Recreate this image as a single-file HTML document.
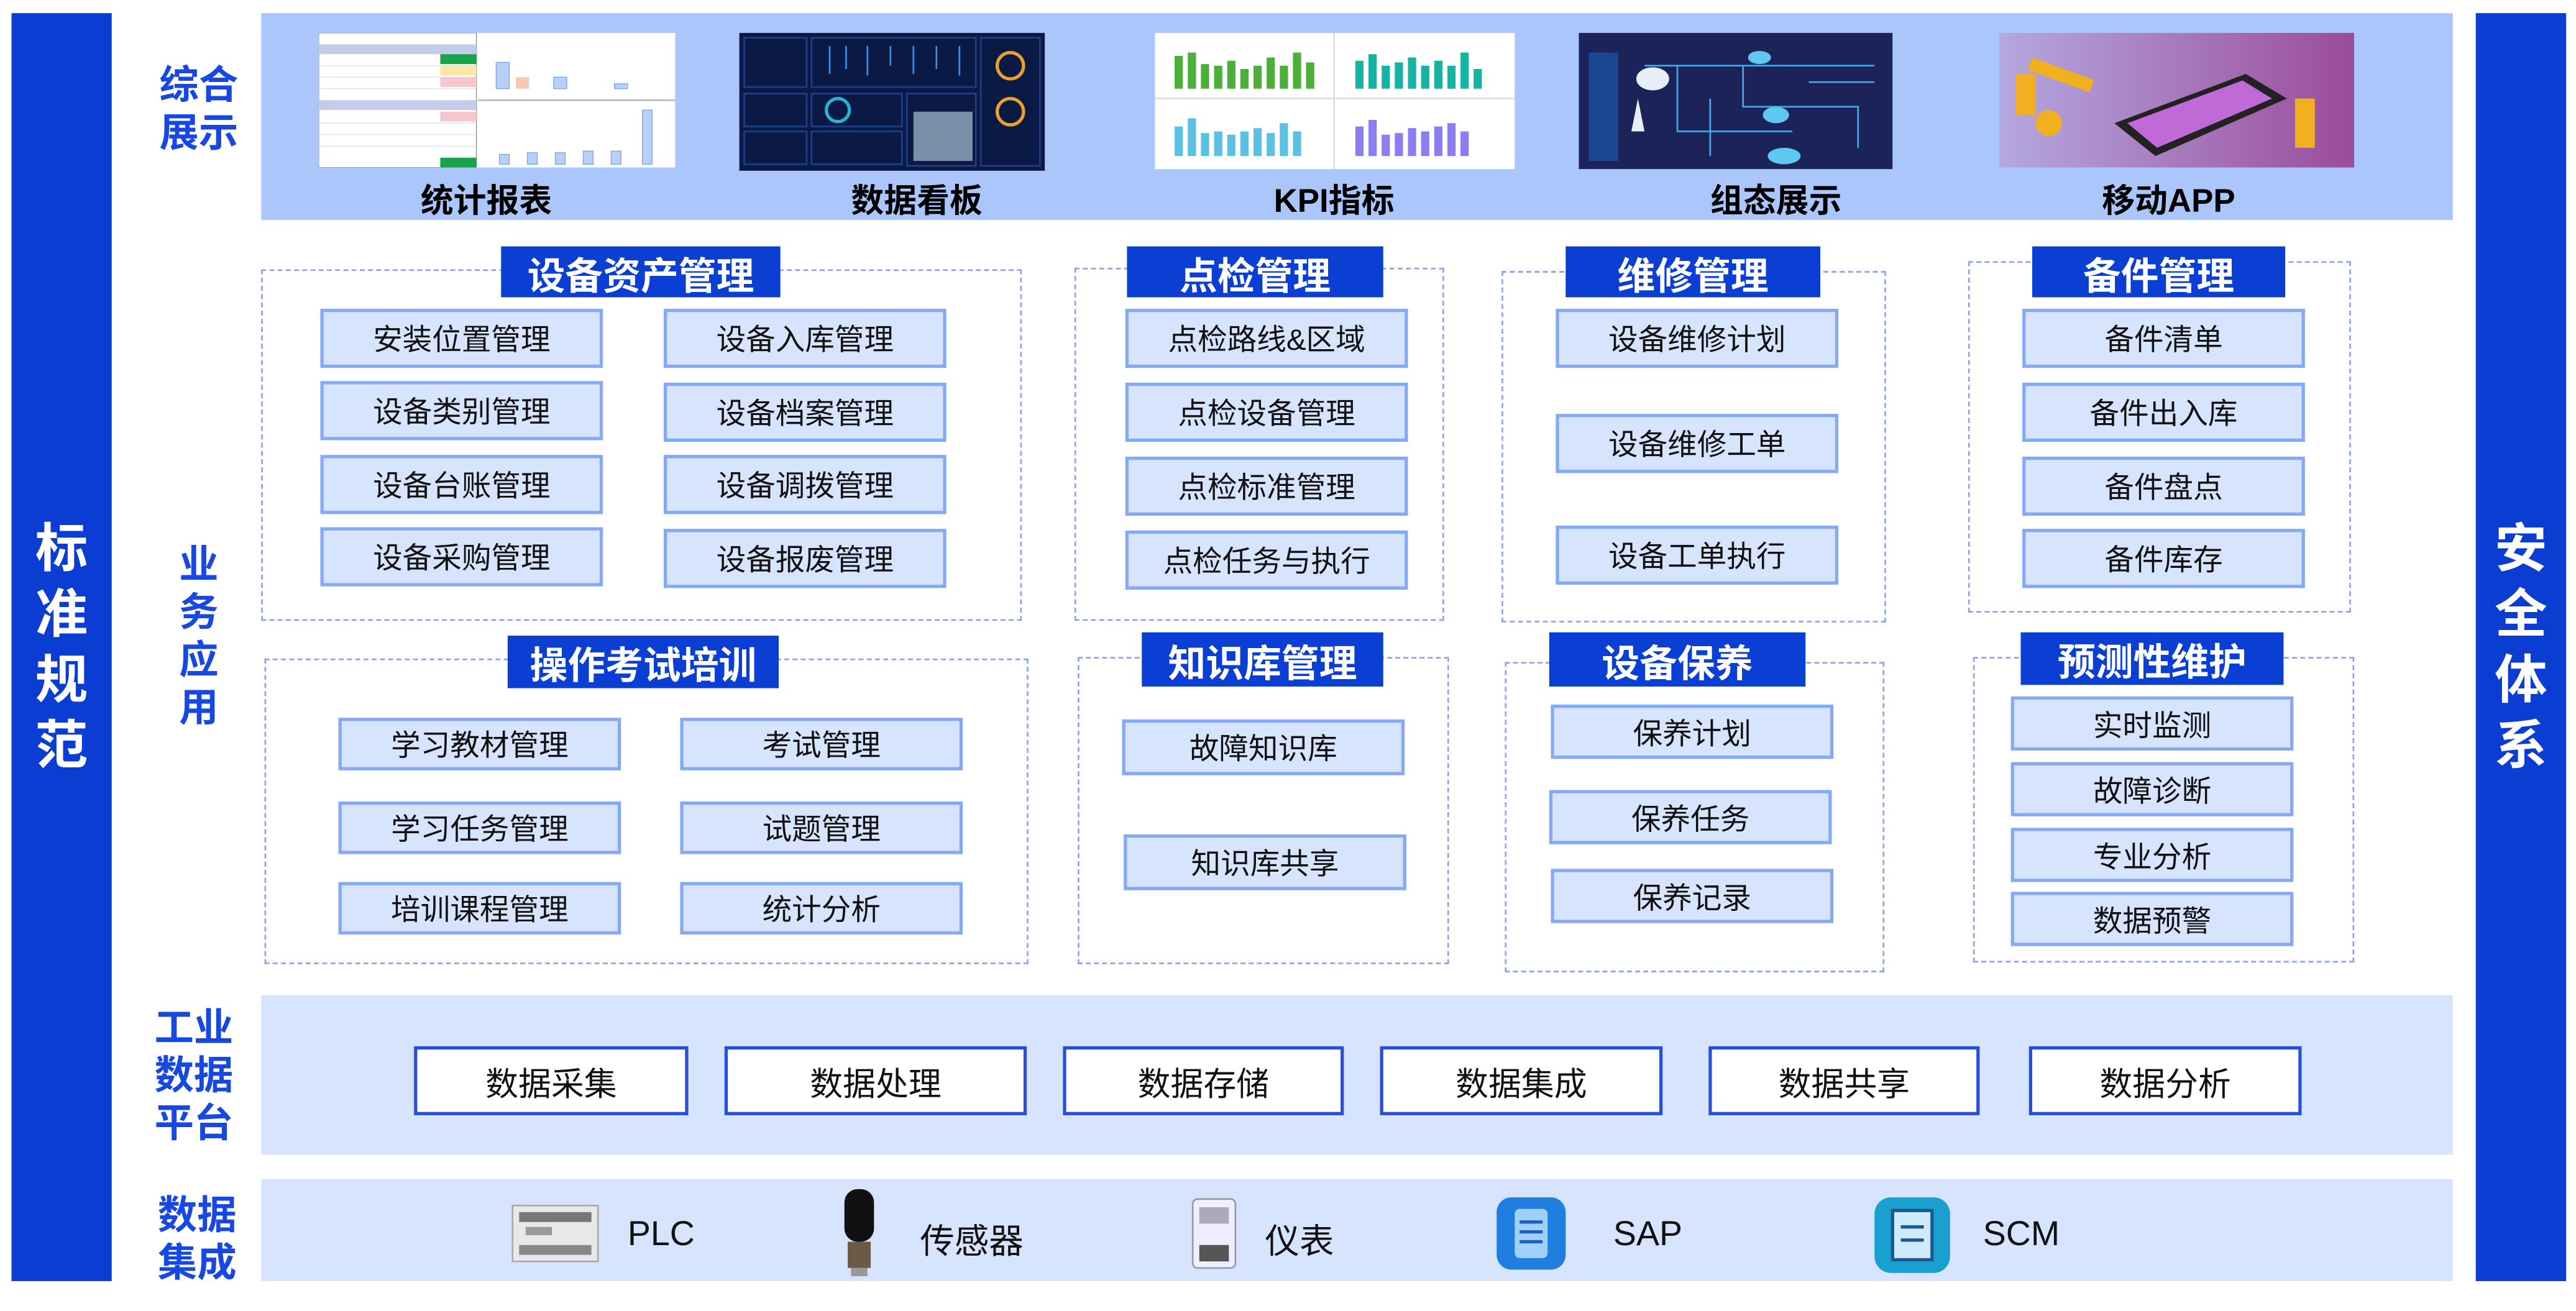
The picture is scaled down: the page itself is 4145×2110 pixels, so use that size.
<!DOCTYPE html>
<html><head><meta charset="utf-8"><style>
*{margin:0;padding:0;box-sizing:border-box}
html,body{width:4145px;height:2110px;overflow:hidden;background:#fff}
#s{position:absolute;left:0;top:0;width:1568px;height:798px;transform:scale(2.6435);transform-origin:0 0;font-family:"Liberation Sans","Noto Sans CJK SC",sans-serif}
.a{position:absolute}
.bar{background:#0b3dd3;color:#fff;font-weight:bold;font-size:32px;display:flex;flex-direction:column;align-items:center;justify-content:center;line-height:40px}
.lab{position:absolute;color:#1848e2;font-weight:bold;font-size:24px;line-height:29px;text-align:center;width:60px}
.band{position:absolute;background:#d6e4fd}
.cap{position:absolute;font-size:20px;font-weight:bold;color:#000;text-align:center;width:200px}
.sec{position:absolute;border:1px dashed #8ba3e8}
.tt{position:absolute;background:#0b3fd4;color:#fff;font-weight:bold;font-size:23px;text-align:center;display:flex;align-items:center;justify-content:center}
.it{position:absolute;background:#d6e4fd;border:2px solid #86a9f5;font-size:18px;color:#111;display:flex;align-items:center;justify-content:center;width:172px;height:36px}
.db{position:absolute;background:#fff;border:2px solid #2a4fd6;font-size:20px;color:#111;display:flex;align-items:center;justify-content:center;top:637px;height:42px}
.dt{position:absolute;font-size:21px;color:#111;top:740px}
</style></head><body><div id="s">
<div class="a bar" style="left:7px;top:8px;width:61px;height:772px">标<br>准<br>规<br>范</div>
<div class="a bar" style="left:1507px;top:8px;width:55px;height:772px">安<br>全<br>体<br>系</div>

<div class="band" style="left:159px;top:8px;width:1334px;height:126px;background:#abc6fb"></div>
<div class="lab" style="left:91px;top:38px">综合<br>展示</div>
<div class="lab" style="left:91px;top:330px;width:60px">业<br>务<br>应<br>用</div>

<!-- images -->
<svg class="a" style="left:194px;top:20px" width="217" height="82" viewBox="0 0 217 82">
<rect width="217" height="82" fill="#fff"/><rect x="0" y="0" width="96" height="82" fill="#fff" stroke="#888" stroke-width=".5"/>
<rect x="0" y="7" width="96" height="6" fill="#c3cde8"/><rect x="0" y="41" width="96" height="6" fill="#c3cde8"/>
<rect x="74" y="13" width="22" height="6" fill="#1aa34a"/><rect x="74" y="20" width="22" height="6" fill="#fbe8a8"/><rect x="74" y="27" width="22" height="6" fill="#f5c6cc"/>
<rect x="74" y="48" width="22" height="6" fill="#f5c6cc"/><rect x="74" y="76" width="22" height="6" fill="#1aa34a"/>
<g stroke="#ddd" stroke-width=".5"><line x1="0" y1="20" x2="96" y2="20"/><line x1="0" y1="27" x2="96" y2="27"/><line x1="0" y1="34" x2="96" y2="34"/><line x1="0" y1="55" x2="96" y2="55"/><line x1="0" y1="62" x2="96" y2="62"/><line x1="0" y1="69" x2="96" y2="69"/></g>
<line x1="97" y1="41" x2="217" y2="41" stroke="#bbb"/>
<g fill="#b8cff8" stroke="#7fa2e8" stroke-width=".5"><rect x="108" y="18" width="8" height="16"/><rect x="143" y="27" width="8" height="7"/><rect x="180" y="31" width="8" height="3"/><rect x="110" y="74" width="6" height="6"/><rect x="127" y="73" width="6" height="7"/><rect x="144" y="73" width="6" height="7"/><rect x="161" y="72" width="6" height="8"/><rect x="178" y="72" width="6" height="8"/><rect x="197" y="47" width="6" height="33"/></g>
<rect x="120" y="27" width="8" height="7" fill="#f4c8b8"/>
</svg>
<svg class="a" style="left:450px;top:20px" width="186" height="84" viewBox="0 0 186 84">
<rect width="186" height="84" fill="#0a1a45"/>
<g fill="none" stroke="#1f3f8a" stroke-width="1"><rect x="3" y="3" width="38" height="30"/><rect x="44" y="3" width="100" height="30"/><rect x="3" y="37" width="38" height="20"/><rect x="44" y="37" width="55" height="20"/><rect x="102" y="37" width="42" height="44"/><rect x="3" y="60" width="38" height="20"/><rect x="44" y="60" width="55" height="20"/><rect x="147" y="3" width="36" height="78"/></g>
<g stroke="#3d8ee8" stroke-width="1"><line x1="55" y1="8" x2="55" y2="25"/><line x1="65" y1="8" x2="65" y2="22"/><line x1="78" y1="8" x2="78" y2="26"/><line x1="92" y1="8" x2="92" y2="20"/><line x1="106" y1="8" x2="106" y2="25"/><line x1="120" y1="8" x2="120" y2="22"/><line x1="134" y1="8" x2="134" y2="26"/></g>
<rect x="106" y="48" width="36" height="30" fill="#7a8fa8"/>
<circle cx="165" cy="20" r="8" fill="none" stroke="#e8a030" stroke-width="2"/><circle cx="165" cy="48" r="8" fill="none" stroke="#e8a030" stroke-width="2"/>
<circle cx="60" cy="47" r="7" fill="none" stroke="#2ab0d0" stroke-width="2"/>
</svg>
<svg class="a" style="left:703px;top:20px" width="219" height="83" viewBox="0 0 219 83">
<rect width="219" height="83" fill="#fff"/><line x1="109" y1="0" x2="109" y2="83" stroke="#ddd"/><line x1="0" y1="40" x2="219" y2="40" stroke="#ddd"/>
<g fill="#4caf3a"><rect x="12" y="14" width="5" height="20"/><rect x="20" y="12" width="5" height="22"/><rect x="28" y="19" width="5" height="15"/><rect x="36" y="20" width="5" height="14"/><rect x="44" y="17" width="5" height="17"/><rect x="52" y="22" width="5" height="12"/><rect x="60" y="20" width="5" height="14"/><rect x="68" y="15" width="5" height="19"/><rect x="76" y="20" width="5" height="14"/><rect x="84" y="12" width="5" height="22"/><rect x="92" y="18" width="5" height="16"/></g>
<g fill="#16b3a2"><rect x="122" y="17" width="5" height="17"/><rect x="130" y="13" width="5" height="21"/><rect x="138" y="20" width="5" height="14"/><rect x="146" y="18" width="5" height="16"/><rect x="154" y="15" width="5" height="19"/><rect x="162" y="20" width="5" height="14"/><rect x="170" y="17" width="5" height="17"/><rect x="178" y="20" width="5" height="14"/><rect x="186" y="12" width="5" height="22"/><rect x="194" y="22" width="5" height="12"/></g>
<g fill="#5bc0e2"><rect x="12" y="57" width="5" height="18"/><rect x="20" y="52" width="5" height="23"/><rect x="28" y="61" width="5" height="14"/><rect x="36" y="60" width="5" height="15"/><rect x="44" y="62" width="5" height="13"/><rect x="52" y="60" width="5" height="15"/><rect x="60" y="58" width="5" height="17"/><rect x="68" y="61" width="5" height="14"/><rect x="76" y="55" width="5" height="20"/><rect x="84" y="60" width="5" height="15"/></g>
<g fill="#8a7ef0"><rect x="122" y="57" width="5" height="18"/><rect x="130" y="53" width="5" height="22"/><rect x="138" y="62" width="5" height="13"/><rect x="146" y="61" width="5" height="14"/><rect x="154" y="58" width="5" height="17"/><rect x="162" y="60" width="5" height="15"/><rect x="170" y="57" width="5" height="18"/><rect x="178" y="55" width="5" height="20"/><rect x="186" y="60" width="5" height="15"/></g>
</svg>
<svg class="a" style="left:961px;top:20px" width="191" height="83" viewBox="0 0 191 83">
<rect width="191" height="83" fill="#1c2358"/><rect x="6" y="12" width="18" height="66" fill="#1a5fb8" opacity=".6"/>
<g fill="none" stroke="#4aa8e8" stroke-width="1"><path d="M40 20 H180 M60 20 V60 H130 M100 20 V45 H170 V70 M140 30 H180 M80 40 V75"/></g>
<ellipse cx="45" cy="28" rx="10" ry="7" fill="#e8eef8"/><path d="M32 60 L36 40 L40 60Z" fill="#e8eef8"/>
<ellipse cx="120" cy="50" rx="8" ry="5" fill="#5ec8f0"/><ellipse cx="125" cy="75" rx="10" ry="5" fill="#5ec8f0"/><ellipse cx="110" cy="15" rx="7" ry="4" fill="#5ec8f0"/>
</svg>
<svg class="a" style="left:1217px;top:20px" width="216" height="82" viewBox="0 0 216 82">
<defs><linearGradient id="g1" x1="0" x2="1"><stop offset="0" stop-color="#b4a8e0"/><stop offset="1" stop-color="#9b4c9a"/></linearGradient></defs>
<rect width="216" height="82" fill="url(#g1)"/>
<path d="M70 55 L150 25 L175 40 L95 75Z" fill="#222"/><path d="M78 55 L148 29 L166 40 L96 70Z" fill="#c06ad8"/>
<g fill="#f0b020"><rect x="10" y="25" width="12" height="25"/><rect x="20" y="15" width="40" height="8" transform="rotate(20 20 15)"/><rect x="180" y="40" width="12" height="30"/><circle cx="30" cy="55" r="8"/></g>
</svg>
<div class="cap" style="left:196px;top:106px">统计报表</div>
<div class="cap" style="left:458px;top:106px">数据看板</div>
<div class="cap" style="left:712px;top:106px">KPI指标</div>
<div class="cap" style="left:981px;top:106px">组态展示</div>
<div class="cap" style="left:1220px;top:106px">移动APP</div>

<!-- sections -->
<div class="sec" style="left:159px;top:164px;width:463px;height:214px"></div>
<div class="tt" style="left:305px;top:150px;width:170px;height:31px">设备资产管理</div>
<div class="it" style="left:195px;top:188px">安装位置管理</div><div class="it" style="left:404px;top:188px">设备入库管理</div>
<div class="it" style="left:195px;top:232px">设备类别管理</div><div class="it" style="left:404px;top:233px">设备档案管理</div>
<div class="it" style="left:195px;top:277px">设备台账管理</div><div class="it" style="left:404px;top:277px">设备调拨管理</div>
<div class="it" style="left:195px;top:321px">设备采购管理</div><div class="it" style="left:404px;top:322px">设备报废管理</div>

<div class="sec" style="left:654px;top:163px;width:225px;height:215px"></div>
<div class="tt" style="left:686px;top:150px;width:156px;height:31px">点检管理</div>
<div class="it" style="left:685px;top:188px">点检路线&amp;区域</div>
<div class="it" style="left:685px;top:233px">点检设备管理</div>
<div class="it" style="left:685px;top:278px">点检标准管理</div>
<div class="it" style="left:685px;top:323px">点检任务与执行</div>

<div class="sec" style="left:914px;top:165px;width:234px;height:214px"></div>
<div class="tt" style="left:953px;top:150px;width:155px;height:31px">维修管理</div>
<div class="it" style="left:947px;top:188px">设备维修计划</div>
<div class="it" style="left:947px;top:252px">设备维修工单</div>
<div class="it" style="left:947px;top:320px">设备工单执行</div>

<div class="sec" style="left:1198px;top:159px;width:233px;height:214px"></div>
<div class="tt" style="left:1237px;top:150px;width:154px;height:31px">备件管理</div>
<div class="it" style="left:1231px;top:188px">备件清单</div>
<div class="it" style="left:1231px;top:233px">备件出入库</div>
<div class="it" style="left:1231px;top:278px">备件盘点</div>
<div class="it" style="left:1231px;top:322px">备件库存</div>

<div class="sec" style="left:161px;top:401px;width:465px;height:186px"></div>
<div class="tt" style="left:309px;top:387px;width:165px;height:32px">操作考试培训</div>
<div class="it" style="left:206px;top:437px;height:32px">学习教材管理</div><div class="it" style="left:414px;top:437px;height:32px">考试管理</div>
<div class="it" style="left:206px;top:488px;height:32px">学习任务管理</div><div class="it" style="left:414px;top:488px;height:32px">试题管理</div>
<div class="it" style="left:206px;top:537px;height:32px">培训课程管理</div><div class="it" style="left:414px;top:537px;height:32px">统计分析</div>

<div class="sec" style="left:656px;top:400px;width:226px;height:187px"></div>
<div class="tt" style="left:695px;top:385px;width:147px;height:33px">知识库管理</div>
<div class="it" style="left:683px;top:438px;height:34px">故障知识库</div>
<div class="it" style="left:684px;top:508px;height:34px">知识库共享</div>

<div class="sec" style="left:916px;top:403px;width:231px;height:189px"></div>
<div class="tt" style="left:943px;top:385px;width:156px;height:33px">设备保养</div>
<div class="it" style="left:944px;top:429px;height:33px">保养计划</div>
<div class="it" style="left:943px;top:481px;height:33px">保养任务</div>
<div class="it" style="left:944px;top:529px;height:33px">保养记录</div>

<div class="sec" style="left:1201px;top:400px;width:232px;height:186px"></div>
<div class="tt" style="left:1230px;top:385px;width:160px;height:32px">预测性维护</div>
<div class="it" style="left:1224px;top:424px;height:33px">实时监测</div>
<div class="it" style="left:1224px;top:464px;height:33px">故障诊断</div>
<div class="it" style="left:1224px;top:504px;height:33px">专业分析</div>
<div class="it" style="left:1224px;top:543px;height:33px">数据预警</div>

<!-- data platform -->
<div class="band" style="left:159px;top:606px;width:1334px;height:97px"></div>
<div class="lab" style="left:88px;top:612px">工业<br>数据<br>平台</div>
<div class="db" style="left:252px;width:167px">数据采集</div>
<div class="db" style="left:441px;width:184px">数据处理</div>
<div class="db" style="left:647px;width:171px">数据存储</div>
<div class="db" style="left:840px;width:172px">数据集成</div>
<div class="db" style="left:1040px;width:165px">数据共享</div>
<div class="db" style="left:1235px;width:166px">数据分析</div>

<div class="band" style="left:159px;top:718px;width:1334px;height:62px"></div>
<div class="lab" style="left:90px;top:726px">数据<br>集成</div>
<svg class="a" style="left:310px;top:730px" width="56" height="42"><rect x="2" y="4" width="52" height="34" fill="#e8e8e8" stroke="#aaa"/><rect x="6" y="8" width="44" height="6" fill="#777"/><rect x="6" y="28" width="44" height="6" fill="#888"/><rect x="10" y="17" width="16" height="5" fill="#999"/></svg>
<div class="dt" style="left:382px">PLC</div>
<svg class="a" style="left:510px;top:722px" width="26" height="56"><rect x="4" y="2" width="18" height="32" rx="8" fill="#111"/><rect x="6" y="34" width="14" height="16" fill="#6b5a45"/><rect x="8" y="50" width="10" height="5" fill="#999"/></svg>
<div class="dt" style="left:560px">传感器</div>
<svg class="a" style="left:724px;top:728px" width="30" height="46"><rect x="2" y="2" width="26" height="42" rx="3" fill="#eef" stroke="#999"/><rect x="6" y="7" width="18" height="10" fill="#aab"/><rect x="6" y="30" width="18" height="10" fill="#555"/></svg>
<div class="dt" style="left:770px">仪表</div>
<svg class="a" style="left:909px;top:727px" width="46" height="48"><rect x="2" y="2" width="42" height="44" rx="9" fill="#1f7ee0"/><rect x="13" y="9" width="20" height="30" rx="3" fill="#9fd0f8"/><path d="M16 17h14M16 23h14M16 29h14" stroke="#1f5fc0" stroke-width="2"/></svg>
<div class="dt" style="left:982px">SAP</div>
<svg class="a" style="left:1139px;top:727px" width="50" height="50"><rect x="2" y="2" width="46" height="46" rx="10" fill="#1aa0d0"/><rect x="13" y="10" width="24" height="30" fill="#cfeaf8" stroke="#1a5a90" stroke-width="2"/><path d="M18 20h14M18 28h14" stroke="#1a5a90" stroke-width="2"/></svg>
<div class="dt" style="left:1207px">SCM</div>
</div></body></html>
